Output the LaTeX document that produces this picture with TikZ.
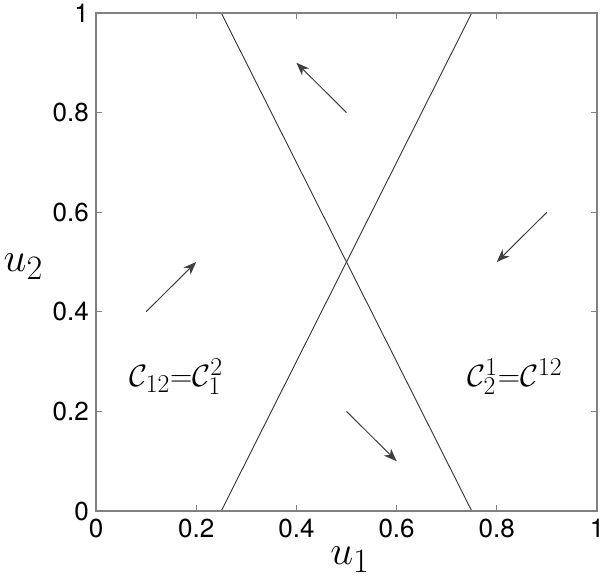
\documentclass[tikz,border=0pt]{standalone}
\usepackage{fontspec}
\newfontfamily\tickfont{TeX Gyre Heros}
\usetikzlibrary{arrows.meta}
\begin{document}
\begin{tikzpicture}[x=501pt,y=498pt,
  axisline/.style={draw=black!50, line width=1.4pt},
  tickmark/.style={draw=black!50, line width=1.2pt},
  curve/.style={draw=black!80, line width=0.9pt},
  flow/.style={draw=black!75, line width=1pt, -{Stealth[length=13pt,width=10pt,inset=4pt]}},
  ticklab/.style={font=\tickfont\fontsize{26}{30}\selectfont, inner sep=0pt},
  axlab/.style={font=\Huge, inner sep=0pt, scale=1.65},
  reglab/.style={font=\Huge, inner sep=0pt, scale=1.24}]
\useasboundingbox (-0.19162,-0.13655) rectangle (1.00599,1.02610);
% curves
\coordinate (a0) at (0.25,0); \coordinate (a1) at (0.75,1);
\coordinate (b0) at (0.75,0); \coordinate (b1) at (0.25,1);
\draw[curve] (a0) -- (a1);
\draw[curve] (b0) -- (b1);
% ticks
\foreach \t in {0.2,0.4,0.6,0.8} {
  \draw[tickmark] (\t,0) -- ++(0,0.012);
  \draw[tickmark] (\t,1) -- ++(0,-0.012);
  \draw[tickmark] (0,\t) -- ++(0.012,0);
  \draw[tickmark] (1,\t) -- ++(-0.012,0);
}
% axes box
\draw[axisline] (0,0) rectangle (1,1);
% tick labels
\foreach \t/\l in {0/0,0.2/0.2,0.4/0.4,0.6/0.6,0.8/0.8,1/1} {
  \node[ticklab, anchor=east] (yl\l) at (-0.014,\t) {\l};
  \node[ticklab, anchor=north] (xl\l) at (\t,-0.016) {\l};
}
% axis labels
\node[axlab] (u2) at (-0.145,0.49) {$u_2$};
\node[axlab] (u1) at (0.507,-0.098) {$u_1$};
% region labels
\node[reglab] (c1) at (0.16,0.27) {$\mathcal{C}_{12}{=}\mathcal{C}_1^2$};
\node[reglab] (c2) at (0.836,0.27) {$\mathcal{C}_2^1{=}\mathcal{C}^{12}$};
% flow arrows
\coordinate (p1s) at (0.5,0.8); \coordinate (p1e) at (0.4,0.9);
\coordinate (p2s) at (0.9,0.6); \coordinate (p2e) at (0.8,0.5);
\coordinate (p3s) at (0.1,0.4); \coordinate (p3e) at (0.2,0.5);
\coordinate (p4s) at (0.5,0.2); \coordinate (p4e) at (0.6,0.1);
\draw[flow] (p1s) -- (p1e);
\draw[flow] (p2s) -- (p2e);
\draw[flow] (p3s) -- (p3e);
\draw[flow] (p4s) -- (p4e);
\end{tikzpicture}
\end{document}
